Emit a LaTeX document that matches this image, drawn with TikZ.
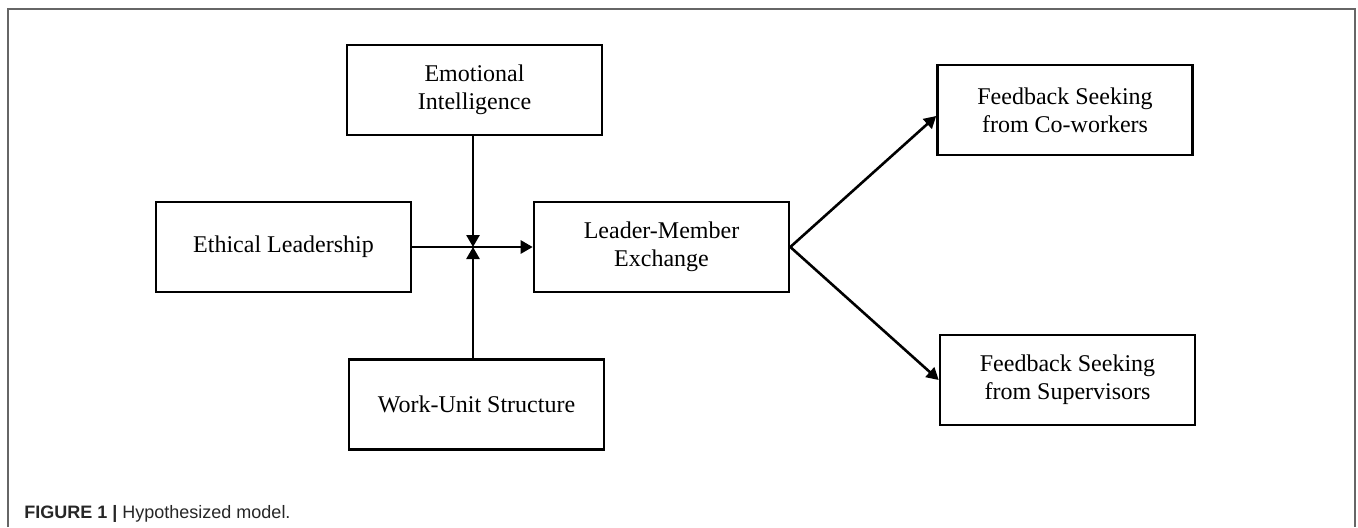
\documentclass[tikz,border=0pt]{standalone}
\usepackage{fontspec}
\setmainfont{Liberation Serif}
\newfontfamily\captionfont{Liberation Sans}
\usetikzlibrary{arrows.meta,positioning}

\begin{document}
\begin{tikzpicture}[x=0.5pt,y=-0.5pt,
    box/.style={draw,line width=1.3pt,minimum width=127.5pt,minimum height=45pt,
      inner sep=0pt,align=center,font=\fontsize{12}{14}\selectfont},
    link/.style={line width=1.3pt,-{Triangle[length=6pt,width=6.5pt]}}]
    \useasboundingbox (0,0) rectangle (1358,527);
    % frame of the figure
    \draw[line width=1pt,black!60] (7.5,527) -- (7.5,9) -- (1355,9) -- (1355,527);

    \node[box] (ei) at (474.5,90) {Emotional\\Intelligence};
    \node[box] (el) at (283.5,247) {Ethical Leadership};
    \node[box] (lmx) at (661.5,247) {Leader-Member\\Exchange};
    \node[box] (wus) at (476.5,404.5) {Work-Unit Structure};
    \node[box] (fsc) at (1065,110) {Feedback Seeking\\from Co-workers};
    \node[box] (fss) at (1067.5,380) {Feedback Seeking\\from Supervisors};
    \coordinate (mid) at (473,247);

    \draw[link] (el) -- (lmx);
    \draw[link] (ei.south -| mid) -- (mid);
    \draw[link] (wus.north -| mid) -- (mid);
    \draw[link] (lmx.east) -- ([yshift=-3pt]fsc.west);
    \draw[link] (lmx.east) -- (fss.west);

    \node[anchor=west,inner sep=0pt,text=black!85,
      font=\captionfont\fontsize{9}{11}\selectfont] (cap) at (24,514)
      {\textbf{FIGURE 1 |} Hypothesized model.};
\end{tikzpicture}
\end{document}
